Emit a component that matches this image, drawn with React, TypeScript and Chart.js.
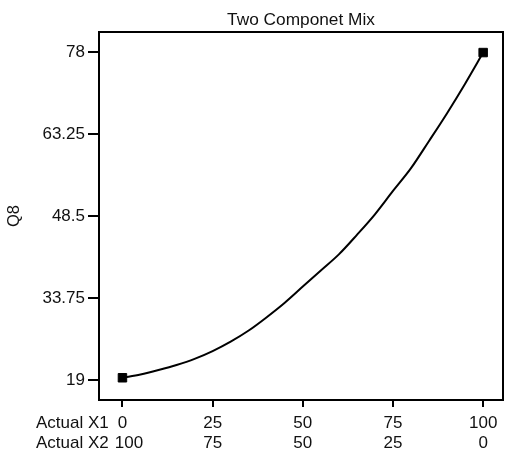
import React, { useEffect, useRef } from "react";
import { Chart, registerables } from "chart.js";

Chart.register(...registerables);

const titleText = "Two Componet Mix";
const yTitle = "Q8";
const x1Values = [0, 5, 10, 15, 20, 25, 30, 35, 40, 45, 50, 55, 60, 65, 70, 75, 80, 85, 90, 95, 100];
const q8Values = [19.4, 20.0, 20.8, 21.7, 22.8, 24.2, 25.9, 27.9, 30.3, 32.9, 35.8, 38.7, 41.6, 45.1, 48.8, 53.0, 57.1, 62.0, 67.0, 72.3, 77.9];
const designX1 = [0, 100];
const designQ8 = [19.4, 77.9];
const xTickValues = [0, 25, 50, 75, 100];
const x1TickLabels = ["0", "25", "50", "75", "100"];
const x2TickLabels = ["100", "75", "50", "25", "0"];
const yTickValues = [19, 33.75, 48.5, 63.25, 78];
const xAxisLabels = ["Actual X1", "Actual X2"];

const FONT = "'Liberation Sans', Arial, Helvetica, sans-serif";

export default function App() {
  const ref = useRef<HTMLCanvasElement | null>(null);

  useEffect(() => {
    document.body.style.margin = "0";
    const canvas = ref.current;
    if (!canvas) return;

    const framePlugin = {
      id: "frame",
      afterDraw(chart: any) {
        const { ctx, chartArea } = chart;
        const xs = chart.scales.x;
        ctx.save();
        ctx.strokeStyle = "#000";
        ctx.lineWidth = 2;
        ctx.strokeRect(chartArea.left, chartArea.top, chartArea.right - chartArea.left, chartArea.bottom - chartArea.top);
        ctx.fillStyle = "#111";
        ctx.font = `17.3px ${FONT}`;
        ctx.textAlign = "center";
        ctx.textBaseline = "middle";
        ctx.fillText(titleText, (chartArea.left + chartArea.right) / 2, 20);

        ctx.font = `17px ${FONT}`;
        ctx.textAlign = "left";
        const row1 = chartArea.bottom + 23.5;
        const row2 = chartArea.bottom + 43.5;
        const labelX = 36;
        ctx.fillText(xAxisLabels[0], labelX, row1);
        ctx.fillText(xAxisLabels[1], labelX, row2);
        const minLeft1 = labelX + ctx.measureText(xAxisLabels[0]).width + 6;
        const minLeft2 = labelX + ctx.measureText(xAxisLabels[1]).width + 6;
        xTickValues.forEach((v, i) => {
          const px = xs.getPixelForValue(v);
          const w1 = ctx.measureText(x1TickLabels[i]).width;
          const w2 = ctx.measureText(x2TickLabels[i]).width;
          ctx.fillText(x1TickLabels[i], Math.max(px - w1 / 2, minLeft1), row1);
          ctx.fillText(x2TickLabels[i], Math.max(px - w2 / 2, minLeft2), row2);
        });
        ctx.restore();
      },
    };

    const chart = new Chart(canvas, {
      type: "scatter",
      data: {
        datasets: [
          {
            data: x1Values.map((x, i) => ({ x, y: q8Values[i] })),
            showLine: true,
            borderColor: "#000",
            borderWidth: 2,
            pointRadius: 0,
            cubicInterpolationMode: "monotone",
          },
          {
            data: designX1.map((x, i) => ({ x, y: designQ8[i] })),
            showLine: false,
            pointStyle: "rect",
            pointRadius: 6,
            backgroundColor: "#000",
            borderColor: "#000",
            borderWidth: 1,
          },
        ],
      },
      options: {
        animation: false,
        responsive: false,
        maintainAspectRatio: false,
        layout: { autoPadding: false, padding: { top: 32, right: 3, left: 0, bottom: 0 } },
        plugins: { legend: { display: false }, tooltip: { enabled: false }, title: { display: false } },
        scales: {
          x: {
            type: "linear",
            min: -6.5,
            max: 105.5,
            afterBuildTicks: (scale: any) => {
              scale.ticks = xTickValues.map((v) => ({ value: v }));
            },
            afterFit: (scale: any) => {
              scale.height = 53;
            },
            border: { display: false },
            grid: { drawOnChartArea: false, drawTicks: true, tickLength: 7, color: "#000", lineWidth: 2 },
            ticks: { display: false },
          },
          y: {
            type: "linear",
            min: 15.4,
            max: 81.6,
            afterBuildTicks: (scale: any) => {
              scale.ticks = yTickValues.map((v) => ({ value: v }));
            },
            afterFit: (scale: any) => {
              scale.width = 99;
            },
            border: { display: false },
            grid: { drawOnChartArea: false, drawTicks: true, tickLength: 11, color: "#000", lineWidth: 2 },
            title: {
              display: true,
              text: yTitle,
              color: "#111",
              font: { family: FONT, size: 16.5 },
              padding: { top: 5, bottom: 0 },
            },
            ticks: {
              padding: 3,
              color: "#111",
              font: { family: FONT, size: 17 },
              callback: (v: any) => String(v),
            },
          },
        },
      },
      plugins: [framePlugin],
    } as any);

    return () => chart.destroy();
  }, []);

  return (
    <div style={{ width: 506, height: 453 }}>
      <canvas ref={ref} width={506} height={453} style={{ display: "block", width: 506, height: 453 }} />
    </div>
  );
}
